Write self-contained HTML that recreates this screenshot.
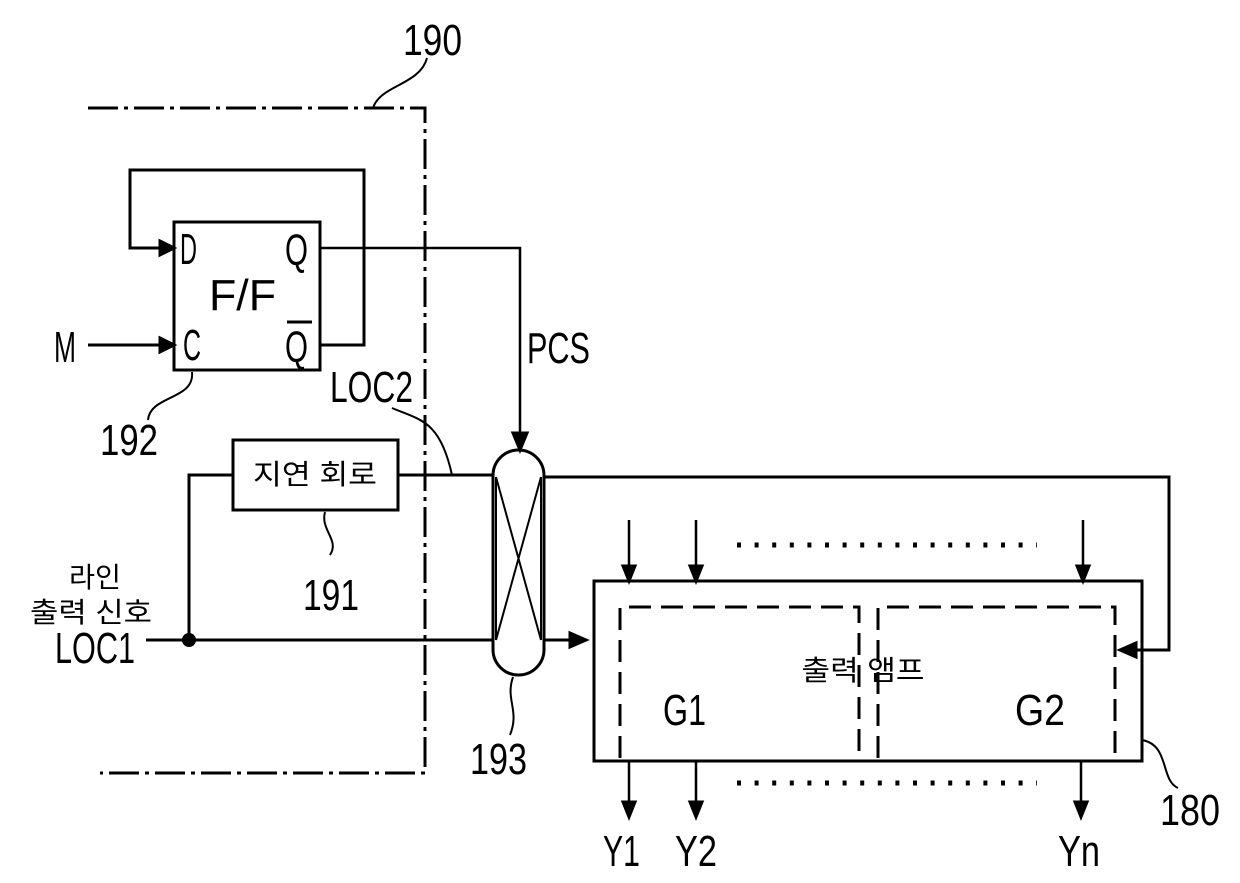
<!DOCTYPE html>
<html><head><meta charset="utf-8"><style>
html,body{margin:0;padding:0;background:#fff;}
svg{display:block;}
text{font-family:"Liberation Sans","Noto Sans CJK KR",sans-serif;fill:#000;}
</style></head><body>
<svg width="1240" height="883" viewBox="0 0 1240 883" xmlns="http://www.w3.org/2000/svg">
<g fill="none" stroke="#000" stroke-width="3">
<path d="M88,108 H425 V773 H100" stroke-dasharray="30,6,4,6"/>
<path d="M373,108 C380,85 420,85 427,58" stroke-width="2"/>
<path d="M320,345 H364 V170 H130 V248 H160"/>
<path d="M160,241 L174,248 L160,255 Z" fill="#000"/>
<rect x="174" y="222" width="146" height="148"/>
<path d="M88,345 H160"/>
<path d="M160,338 L174,345 L160,352 Z" fill="#000"/>
<path d="M320,248 H520 V435" stroke-width="2.5"/>
<path d="M513,433 L520,450 L527,433 Z" fill="#000"/>
<path d="M192,372 C195,400 150,395 148,420" stroke-width="2"/>
<path d="M392,408 C420,420 440,420 452,475" stroke-width="2"/>
<rect x="233" y="440" width="165" height="70"/>
<path d="M233,475 H189 V640"/>
<path d="M146,640 H493"/>
<path d="M398,475 H493"/>
<path d="M325,512 C320,530 340,540 330,555" stroke-width="2"/>
<rect x="493" y="450" width="51" height="225" rx="25.5"/>
<path d="M496,477 L541,640 M541,477 L496,640 M496,477 V640 M541,477 V640" stroke-width="2"/>
<path d="M513,677 C505,700 520,710 510,735" stroke-width="2"/>
<path d="M544,477 H1169 V650 H1135"/>
<path d="M1136,643 L1120,650 L1136,657 Z" fill="#000"/>
<path d="M544,640 H572"/>
<path d="M570,633 L586,640 L570,647 Z" fill="#000"/>
<rect x="594" y="581" width="548" height="180"/>
<path d="M620,758 V607 H859 V758 M878,758 V607 H1115 V758" stroke-width="3" stroke-dasharray="22,10"/>
<path d="M629,520 V570 M696,520 V570 M1083,520 V570" stroke-width="2.5"/>
<path d="M623,566 L629,581 L635,566 Z M690,566 L696,581 L702,566 Z M1077,566 L1083,581 L1089,566 Z" fill="#000"/>
<path d="M629,761 V805 M696,761 V805 M1081,761 V805" stroke-width="2.5"/>
<path d="M623,802 L629,817 L635,802 Z M690,802 L696,817 L702,802 Z M1075,802 L1081,817 L1087,802 Z" fill="#000"/>
<path d="M737,545 H1037 M737,783 H1037" stroke-width="5" stroke-dasharray="4,13.6"/>
<path d="M1142,740 C1170,745 1160,780 1178,788" stroke-width="2"/>
</g>
<circle cx="189" cy="640" r="7" fill="#000"/>
<g font-size="44">
<text x="403" y="55" textLength="59" lengthAdjust="spacingAndGlyphs">190</text>
<text x="180" y="264" textLength="17" lengthAdjust="spacingAndGlyphs">D</text>
<text x="285" y="265" textLength="23" lengthAdjust="spacingAndGlyphs">Q</text>
<text x="209" y="310" textLength="67" lengthAdjust="spacingAndGlyphs">F/F</text>
<text x="183" y="360" textLength="18" lengthAdjust="spacingAndGlyphs">C</text>
<text x="285" y="362" textLength="23" lengthAdjust="spacingAndGlyphs">Q</text>
<text x="54" y="362" textLength="22" lengthAdjust="spacingAndGlyphs">M</text>
<text x="527" y="363" textLength="63" lengthAdjust="spacingAndGlyphs">PCS</text>
<text x="330" y="402" textLength="83" lengthAdjust="spacingAndGlyphs">LOC2</text>
<text x="100" y="455" textLength="58" lengthAdjust="spacingAndGlyphs">192</text>
<text x="303" y="610" textLength="56" lengthAdjust="spacingAndGlyphs">191</text>
<text x="55" y="663" textLength="80" lengthAdjust="spacingAndGlyphs">LOC1</text>
<text x="470" y="774" textLength="57" lengthAdjust="spacingAndGlyphs">193</text>
<text x="663" y="725" textLength="43" lengthAdjust="spacingAndGlyphs">G1</text>
<text x="1015" y="725" textLength="50" lengthAdjust="spacingAndGlyphs">G2</text>
<text x="1160" y="825" textLength="60" lengthAdjust="spacingAndGlyphs">180</text>
<text x="603" y="866" textLength="37" lengthAdjust="spacingAndGlyphs">Y1</text>
<text x="675" y="866" textLength="42" lengthAdjust="spacingAndGlyphs">Y2</text>
<text x="1058" y="866" textLength="42" lengthAdjust="spacingAndGlyphs">Yn</text>
</g>
<path d="M287,322 H312" stroke="#000" stroke-width="3"/>
<g font-size="28">
<text x="315" y="484" text-anchor="middle" textLength="124" lengthAdjust="spacingAndGlyphs">지연 회로</text>
<text x="95" y="587" text-anchor="middle" textLength="52" lengthAdjust="spacingAndGlyphs">라인</text>
<text x="91" y="622" text-anchor="middle" textLength="122" lengthAdjust="spacingAndGlyphs">출력 신호</text>
<text x="863" y="680" text-anchor="middle" textLength="123" lengthAdjust="spacingAndGlyphs">출력 앰프</text>
</g>
</svg>
</body></html>
